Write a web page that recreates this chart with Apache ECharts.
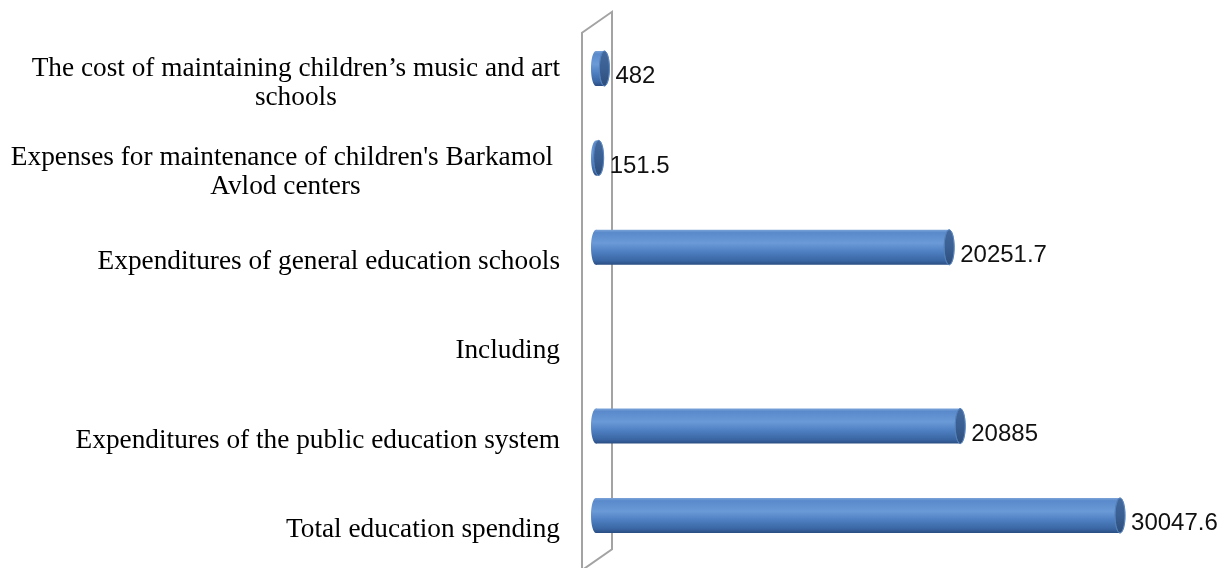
<!DOCTYPE html>
<html>
<head>
<meta charset="utf-8">
<script src="https://cdn.jsdelivr.net/npm/echarts@6/dist/echarts.min.js"></script>
<style>
html,body{margin:0;padding:0;background:#fff;}
#main{width:1224px;height:568px;}
</style>
</head>
<body>
<div id="main"></div>
<script>
// ---- data ----
const categories = [
  'Total education spending',
  'Expenditures of the public education system',
  'Including',
  'Expenditures of general education schools',
  "Expenses for maintenance of children's Barkamol \nAvlod centers",
  'The cost of maintaining children\u2019s music and art\nschools'
];
const values = [30047.6, 20885, null, 20251.7, 151.5, 482];
const valueLabels = ['30047.6', '20885', '', '20251.7', '151.5', '482'];

// ---- layout ----
const GRID_LEFT = 596, GRID_TOP = 23.8, GRID_H = 536.4, GRID_W = 610.4;
const X_MAX = 35000;
const BAR_H = 35, CAP_RX = 5;

const chart = echarts.init(document.getElementById('main'), null, {renderer: 'canvas'});

const seriesData = values.map((v, i) => [v, i]);

const bodyGrad = new echarts.graphic.LinearGradient(0, 0, 0, 1, [
  {offset: 0, color: '#7aa3d8'},
  {offset: 0.08, color: '#5a8acb'},
  {offset: 0.38, color: '#6b9ad7'},
  {offset: 0.62, color: '#4f80c2'},
  {offset: 0.88, color: '#3a66a3'},
  {offset: 1, color: '#2a4d82'}
]);
const capGrad = new echarts.graphic.LinearGradient(0, 0, 0, 1, [
  {offset: 0, color: '#43699e'},
  {offset: 0.5, color: '#3a5f92'},
  {offset: 1, color: '#2d4e7c'}
]);

const option = {
  animation: false,
  backgroundColor: '#fff',
  grid: {left: GRID_LEFT, top: GRID_TOP, width: GRID_W, height: GRID_H, containLabel: false},
  xAxis: {type: 'value', min: 0, max: X_MAX, show: false},
  yAxis: {
    type: 'category',
    data: categories,
    axisLine: {show: false},
    axisTick: {show: false},
    splitLine: {show: false},
    axisLabel: {
      margin: 36,
      align: 'right',
      padding: [29, 0, 0, 0],
      formatter: function (v) {
        return v.split('\n').map(l => '{a|' + l + '}').join('\n');
      },
      rich: {
        a: {
          fontFamily: '"Liberation Serif", "DejaVu Serif", serif',
          fontSize: 27.3,
          lineHeight: 29,
          color: '#000',
          align: 'center'
        }
      }
    }
  },
  series: [{
    type: 'custom',
    z: 5,
    encode: {x: 0, y: 1},
    data: seriesData,
    renderItem: function (params, api) {
      const v = api.value(0);
      if (v == null || isNaN(v)) return;
      const ci = api.value(1);
      const p0 = api.coord([0, ci]);
      const p1 = api.coord([v, ci]);
      const cy = p0[1];
      const top = cy - BAR_H / 2;
      const lbl = valueLabels[params.dataIndex];
      return {
        type: 'group',
        children: [
          {type: 'ellipse', shape: {cx: p0[0], cy: cy, rx: CAP_RX, ry: BAR_H / 2},
           style: {fill: bodyGrad}},
          {type: 'rect', shape: {x: p0[0], y: top, width: p1[0] - p0[0], height: BAR_H},
           style: {fill: bodyGrad}},
          {type: 'ellipse', shape: {cx: p1[0], cy: cy, rx: CAP_RX, ry: BAR_H / 2},
           style: {fill: capGrad, stroke: '#5582bb', lineWidth: 0.8}},
          {type: 'text', x: p1[0] + CAP_RX + 6, y: cy + 8,
           style: {text: lbl, fill: '#111', font: '24px "Liberation Sans", Arial, sans-serif',
                   align: 'left', verticalAlign: 'middle'}}
        ]
      };
    }
  }]
};
chart.setOption(option);

// 3D wall outline derived from the grid/axis position
const x0 = chart.convertToPixel({xAxisIndex: 0}, 0);
const gTop = GRID_TOP, gBot = GRID_TOP + GRID_H;
chart.setOption({
  graphic: [{
    type: 'polygon',
    z: 1,
    shape: {points: [
      [x0 - 14, gTop + 9],
      [x0 + 16, gTop - 12],
      [x0 + 16, gBot - 11],
      [x0 - 14, gBot + 10]
    ]},
    style: {fill: 'none', stroke: '#a3a3a3', lineWidth: 2}
  }]
});
</script>
</body>
</html>
